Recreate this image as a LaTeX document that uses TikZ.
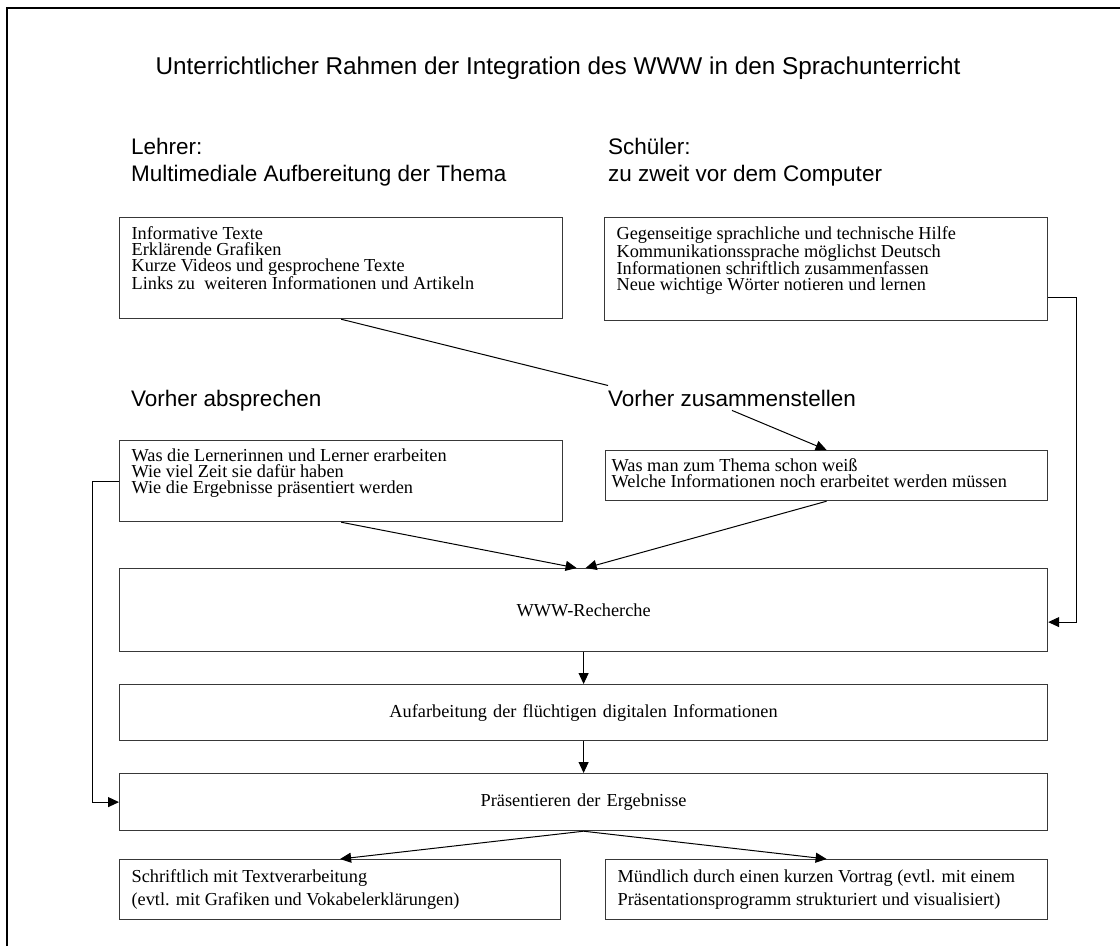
\documentclass[tikz,border=0pt]{standalone}
\usepackage{fontspec}
\setmainfont{Liberation Serif}
\newfontfamily\headfont{Liberation Sans}
\usetikzlibrary{arrows.meta,calc}
\newcommand\txtbody{\fontsize{18.3}{16}\selectfont\lineskiplimit=-100pt\relax}
\newcommand\txtwide{\fontsize{18.3}{23}\selectfont\lineskiplimit=-100pt\relax}
\newcommand\txthead{\headfont\fontsize{22.5}{27}\selectfont}
\newcommand\txttitle{\headfont\fontsize{24.3}{28}\selectfont}
% text block of a box: height, width, space above the first line, lines
\newcommand\boxlines[4]{\parbox[c][#1][t]{#2}{\vspace*{#3}#4}}

\begin{document}
\begin{tikzpicture}[x=1pt,y=-1pt,
  box/.style={draw=black!78, line width=1.2pt, anchor=north west,
    inner xsep=12pt, inner ysep=0pt, font=\txtbody},
  lbox/.style={box, align=left},
  cbox/.style={box, align=center},
  head/.style={font=\txthead, anchor=base west, inner sep=0pt},
  conn/.style={line width=1pt, draw=black},
  arr/.style={conn, -{Triangle[length=11pt,width=10pt]}}
]
\useasboundingbox (0,0) rectangle (1120,946);

% outer frame (open towards right and bottom)
\draw[line width=2.5pt] (7,946) -- (7,8) -- (1120,8);

% title and headings
\node[font=\txttitle, anchor=base, inner sep=0pt] (title) at (558,74)
  {Unterrichtlicher Rahmen der Integration des WWW in den Sprachunterricht};
\node[head] (lehrerA) at (131,154) {Lehrer:};
\node[head] (lehrerB) at (131,181) {Multimediale Aufbereitung der Thema};
\node[head] (schuelerA) at (608,154) {Schüler:};
\node[head] (schuelerB) at (608,181) {zu zweit vor dem Computer};
\node[head] (absprechen) at (131,406) {Vorher absprechen};
\node[head, inner ysep=4pt] (zusammen) at (608,406) {Vorher zusammenstellen};

% upper boxes
\node[lbox] (b1) at (119,217)
  {\boxlines{101pt}{419pt}{9pt}{Informative Texte\\Erklärende Grafiken\\Kurze Videos und gesprochene Texte\\Links zu\ \ weiteren Informationen und Artikeln}};
\node[lbox] (b2) at (604,217)
  {\boxlines{103pt}{419pt}{9pt}{Gegenseitige sprachliche und technische Hilfe\\Kommunikationssprache möglichst Deutsch\\Informationen schriftlich zusammenfassen\\Neue wichtige Wörter notieren und lernen}};
\node[lbox] (b3) at (119,440)
  {\boxlines{81pt}{419pt}{8pt}{Was die Lernerinnen und Lerner erarbeiten\\Wie viel Zeit sie dafür haben\\Wie die Ergebnisse präsentiert werden}};
\node[lbox, inner xsep=6pt] (b4) at (605,450)
  {\boxlines{50pt}{430pt}{8pt}{Was man zum Thema schon weiß\\Welche Informationen noch erarbeitet werden müssen}};

% process boxes
\node[cbox, text width=904pt, minimum height=83pt] (www) at (119,568) {WWW-Recherche};
\node[cbox, text width=904pt, minimum height=56pt] (auf) at (119,684)
  {Aufarbeitung der flüchtigen digitalen Informationen};
\node[cbox, text width=904pt, minimum height=57pt] (prae) at (119,773)
  {Präsentieren der Ergebnisse};

% result boxes
\node[lbox, font=\txtwide] (schr) at (119,859)
  {\parbox[c][60pt][c]{417pt}{Schriftlich mit Textverarbeitung\\(evtl. mit Grafiken und Vokabelerklärungen)}};
\node[lbox, font=\txtwide] (muend) at (605,859)
  {\parbox[c][60pt][c]{418pt}{Mündlich durch einen kurzen Vortrag (evtl. mit einem\\Präsentationsprogramm strukturiert und visualisiert)}};

% connectors
\draw[conn] (b1.south) -- (zusammen.north west);
\draw[arr] (zusammen.south) -- (b4.north);
\draw[arr] (b3.south) -- ([xshift=-7pt]www.north);
\draw[arr] (b4.south) -- ([xshift=2pt]www.north);
\draw[arr] ([yshift=-28pt]b2.east) -- ++(28,0) |- ([yshift=-12pt]www.east);
\draw[arr] (b3.west) -- ++(-27,0) |- (prae.west);
\draw[arr] (www.south) -- (auf.north);
\draw[arr] (auf.south) -- (prae.north);
\draw[arr] (prae.south) -- (schr.north);
\draw[arr] (prae.south) -- (muend.north);
\end{tikzpicture}
\end{document}
